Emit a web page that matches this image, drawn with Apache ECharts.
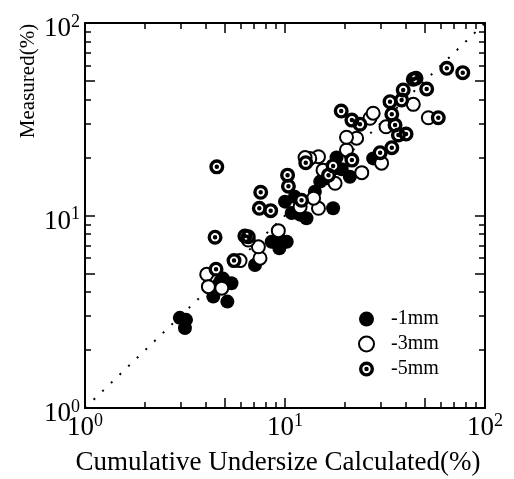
<!DOCTYPE html>
<html><head><meta charset="utf-8">
<script src="https://cdn.jsdelivr.net/npm/echarts@6.0.0/dist/echarts.min.js"></script>
<style>html,body{margin:0;padding:0;background:#fff}#c{width:514px;height:479px}</style>
</head><body><div id="c"></div>
<script>
// ---- data ----
const majorTicks = [1, 5, 10, 50, 100];
const minorTicks = [2, 3, 4, 6, 7, 8, 9, 20, 30, 40, 60, 70, 80, 90];
const tickLabelValues = [1, 10, 100];
const legendNames = ['-1mm', '-3mm', '-5mm'];
const identityLine = [[1, 1], [100, 100]];
const mm1 = [
  [2.98,2.94],[3.2,2.87],[3.16,2.6],[5.15,3.57],[4.38,3.79],[4.9,4.7],[5.4,4.45],[4.73,4.5],[7.08,5.53],
  [8.58,7.3],[9.37,6.75],[10.2,7.3],[9.44,7.46],[10.8,10.3],[12.8,9.67],[11.9,10.1],[17.4,10.9],
  [14.1,13.3],[15.0,15.0],[16.2,15.6],[18.1,20.0],[21.1,15.9],[19.2,17.4],[27.6,19.8],[10.0,11.8],
  [11.2,12.5],[17.8,17.6]
];
const mm3 = [
  [4.06,4.95],[4.14,4.27],[4.83,4.19],[7.5,6.0],[7.36,6.88],[9.26,8.34],[5.96,5.83],[6.55,7.46],
  [11.9,11.1],[14.7,10.9],[13.9,12.3],[17.8,14.7],[15.5,17.2],[24.2,16.7],[14.7,20.2],[13.3,19.8],
  [30.4,18.7],[20.3,21.9],[22.8,25.2],[20.3,25.5],[26.6,32.0],[27.6,34.0],[32.0,28.9],[43.8,37.8],
  [52.1,32.2],[12.6,20.0]
];
const mm5 = [
  [64.4,58.2],[77.4,55.2],[43.8,51.0],[45.2,51.6],[51.1,45.4],[39.0,44.9],[38.3,39.8],[33.5,39.0],
  [19.1,34.9],[21.6,31.3],[23.7,29.8],[34.2,33.6],[35.5,29.5],[36.9,26.2],[40.3,26.5],[58.4,32.2],
  [34.2,22.5],[29.9,21.2],[21.6,19.4],[12.7,18.8],[17.4,18.1],[16.5,16.2],[10.3,16.2],[10.4,14.2],
  [4.56,17.9],[7.56,13.2],[7.44,10.9],[8.48,10.6],[12.1,12.0],[4.47,7.71],[6.55,7.76],[6.3,7.83],
  [5.56,5.83],[4.52,5.26]
];

// ---- chart ----
const serif = 'Liberation Serif';
const bullseye = 'path://M10 0A10 10 0 1 1 10 20A10 10 0 1 1 10 0Z M10 4.5A5.5 5.5 0 1 0 10 15.5A5.5 5.5 0 1 0 10 4.5Z M10 7A3 3 0 1 1 10 13A3 3 0 1 1 10 7Z';
const rich = {
  b: {fontFamily: serif, fontSize: 27, color: '#000', lineHeight: 32},
  s: {fontFamily: serif, fontSize: 18, color: '#000', lineHeight: 18, verticalAlign: 'top'}
};
const fmt = v => '{b|10}{s|' + Math.round(Math.log10(v)) + '}';

function mkAxis(pos, isMain, ticks, len, isX) {
  return {
    type: 'log', logBase: 10, min: 1, max: 100, position: pos,
    axisLine: {show: isMain, onZero: false, lineStyle: {color: '#000', width: 2}},
    axisTick: {show: true, inside: true, length: len, customValues: ticks, lineStyle: {color: '#000', width: 1.5}},
    axisLabel: (isMain && (pos === 'bottom' || pos === 'left')) ? {
      show: true, formatter: fmt, rich: rich, margin: isX ? 4 : 5,
      padding: isX ? [0, 0, 0, 0] : [12, 0, 0, 0], customValues: tickLabelValues
    } : {show: false},
    splitLine: {show: false}, minorTick: {show: false}, minorSplitLine: {show: false}
  };
}

const chart = echarts.init(document.getElementById('c'));
chart.setOption({
  animation: false,
  backgroundColor: '#fff',
  grid: {left: 85, right: 29, top: 23, bottom: 71, containLabel: false},
  xAxis: [
    mkAxis('bottom', true, majorTicks, 10, true),
    mkAxis('bottom', false, minorTicks, 6, true),
    mkAxis('top', true, majorTicks, 10, true),
    mkAxis('top', false, minorTicks, 6, true)
  ],
  yAxis: [
    mkAxis('left', true, majorTicks, 10, false),
    mkAxis('left', false, minorTicks, 6, false),
    mkAxis('right', true, majorTicks, 10, false),
    mkAxis('right', false, minorTicks, 6, false)
  ],
  legend: {
    orient: 'vertical', left: 358, top: 309, padding: 0,
    itemWidth: 15, itemHeight: 15, itemGap: 5,
    textStyle: {fontFamily: serif, fontSize: 20, color: '#000', padding: [0, 0, 0, 12]},
    data: legendNames
  },
  graphic: [
    {type: 'text', x: 28, y: 81, rotation: Math.PI / 2,
     style: {text: 'Measured(%)', fontFamily: serif, fontSize: 21, fill: '#000', align: 'center', verticalAlign: 'middle'}},
    {type: 'text', x: 278, y: 463,
     style: {text: 'Cumulative Undersize Calculated(%)', fontFamily: serif, fontSize: 27, fill: '#000', align: 'center', verticalAlign: 'middle'}}
  ],
  series: [
    {type: 'line', data: identityLine, symbol: 'none', silent: true, z: 1,
     lineStyle: {color: '#000', width: 2, type: [2, 10]}},
    {name: legendNames[0], type: 'scatter', data: mm1, symbol: 'circle', symbolSize: 14, z: 3,
     itemStyle: {color: '#000', opacity: 1}},
    {name: legendNames[1], type: 'scatter', data: mm3, symbol: 'circle', symbolSize: 13, z: 3,
     itemStyle: {color: '#fff', borderColor: '#000', borderWidth: 2, opacity: 1}},
    {name: 'bg5', type: 'scatter', data: mm5, symbol: 'circle', symbolSize: 12, z: 3, silent: true,
     itemStyle: {color: '#fff', opacity: 1}},
    {name: legendNames[2], type: 'scatter', data: mm5, symbol: bullseye, symbolSize: 15, z: 3,
     itemStyle: {color: '#000', opacity: 1}}
  ]
});
</script></body></html>
